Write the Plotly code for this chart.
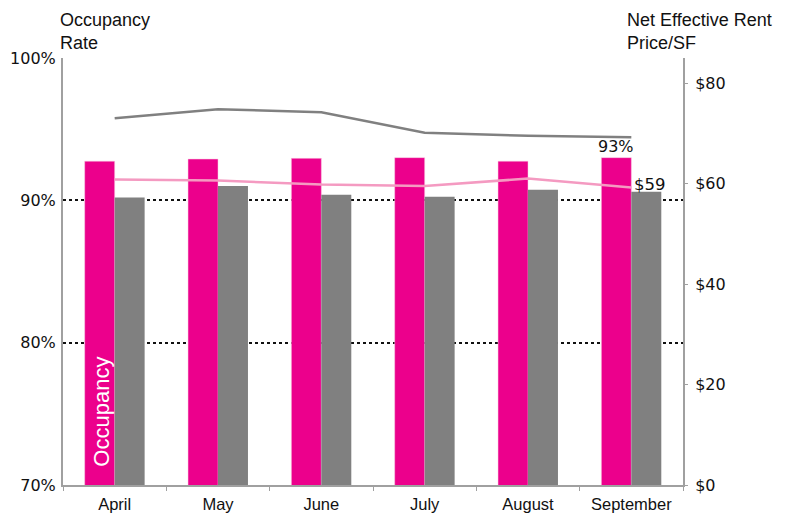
import plotly.graph_objects as go

months = ["April", "May", "June", "July", "August", "September"]
occupancy = [92.75, 92.9, 92.95, 93.0, 92.75, 93.0]
occupancy_prior = [90.2, 91.0, 90.4, 90.25, 90.75, 90.6]
rent = [60.8, 60.6, 59.8, 59.5, 61.0, 59.2]
rent_prior = [73.0, 74.8, 74.2, 70.1, 69.5, 69.2]

left_ticks = [70, 80, 90, 100]
left_labels = ["70%", "80%", "90%", "100%"]
right_ticks = [0, 20, 40, 60, 80]
right_labels = ["$0", "$20", "$40", "$60", "$80"]

PINK = "#EC008C"
GRAY = "#808080"
LPINK = "#F49AC1"
AXIS = "#A0A0A0"
FONT = "Liberation Sans, Arial, sans-serif"
NUMFONT = "DejaVu Sans, Verdana, sans-serif"

fig = go.Figure()
fig.add_trace(go.Bar(x=months, y=occupancy, marker=dict(color=PINK, line=dict(color="#F8C8E0", width=0.5)),
                     yaxis="y", name="Occupancy"))
fig.add_trace(go.Bar(x=months, y=occupancy_prior, marker=dict(color=GRAY, line=dict(width=0)),
                     yaxis="y", name="Occupancy prior"))
fig.add_trace(go.Scatter(x=months, y=rent_prior, mode="lines", line=dict(color=GRAY, width=2.5),
                         yaxis="y2", name="Rent prior"))
fig.add_trace(go.Scatter(x=months, y=rent, mode="lines", line=dict(color=LPINK, width=2.5),
                         yaxis="y2", name="Rent"))

fig.update_layout(
    width=782, height=506,
    margin=dict(l=55, r=107, t=50, b=29),
    plot_bgcolor="white", paper_bgcolor="white",
    showlegend=False,
    barmode="group", bargap=0.42, bargroupgap=0,
    font=dict(family=FONT, size=16, color="#111111"),
    xaxis=dict(
        showline=True, linecolor=AXIS, linewidth=2,
        ticks="outside", tickson="boundaries", ticklen=4, tickcolor=AXIS,
        tickfont=dict(size=16.5, family=FONT, color="#111111"),
        ticklabelstandoff=3,
        showgrid=False, zeroline=False, automargin=False,
    ),
    yaxis=dict(
        range=[70, 100], tickvals=left_ticks, ticktext=left_labels,
        showline=True, linecolor=AXIS, linewidth=2,
        showgrid=True, gridcolor="#111111", griddash="dot", gridwidth=2,
        ticks="", ticklabelstandoff=2, automargin=False,
        tickfont=dict(size=16, family=NUMFONT, color="#111111"),
        zeroline=False,
    ),
    yaxis2=dict(
        range=[0, 85], overlaying="y", side="right",
        tickvals=right_ticks, ticktext=right_labels,
        showline=True, linecolor=AXIS, linewidth=2,
        ticks="outside", ticklen=3, tickcolor=AXIS,
        showgrid=False, zeroline=False, automargin=False,
        tickfont=dict(size=16, family=NUMFONT, color="#111111"),
        ticklabelstandoff=4,
    ),
    annotations=[
        dict(text="Occupancy<br>Rate", xref="paper", yref="paper", x=-0.008, y=1.0, yshift=50,
             xanchor="left", yanchor="top", showarrow=False, align="left",
             font=dict(size=18, family=FONT, color="#111111")),
        dict(text="Net Effective Rent<br>Price/SF", xref="paper", yref="paper", x=0.906, y=1.0, yshift=50,
             xanchor="left", yanchor="top", showarrow=False, align="left",
             font=dict(size=18, family=FONT, color="#111111")),
        dict(text="Occupancy", x=months[0], y=70, xref="x", yref="y", xshift=-14, yshift=16,
             textangle=-90, xanchor="center", yanchor="bottom", showarrow=False,
             font=dict(size=22, family=FONT, color="white")),
        dict(text="93%", x=months[-1], y=occupancy[-1], xref="x", yref="y", xshift=-15,
             xanchor="center", yanchor="bottom", showarrow=False,
             font=dict(size=16, family=NUMFONT, color="#111111")),
        dict(text="$59", x=months[-1], y=rent[-1], xref="x", yref="y2", xshift=1, yshift=3,
             xanchor="left", yanchor="middle", showarrow=False,
             font=dict(size=16.5, family=NUMFONT, color="#111111")),
    ],
)

fig.write_html("out.html")
